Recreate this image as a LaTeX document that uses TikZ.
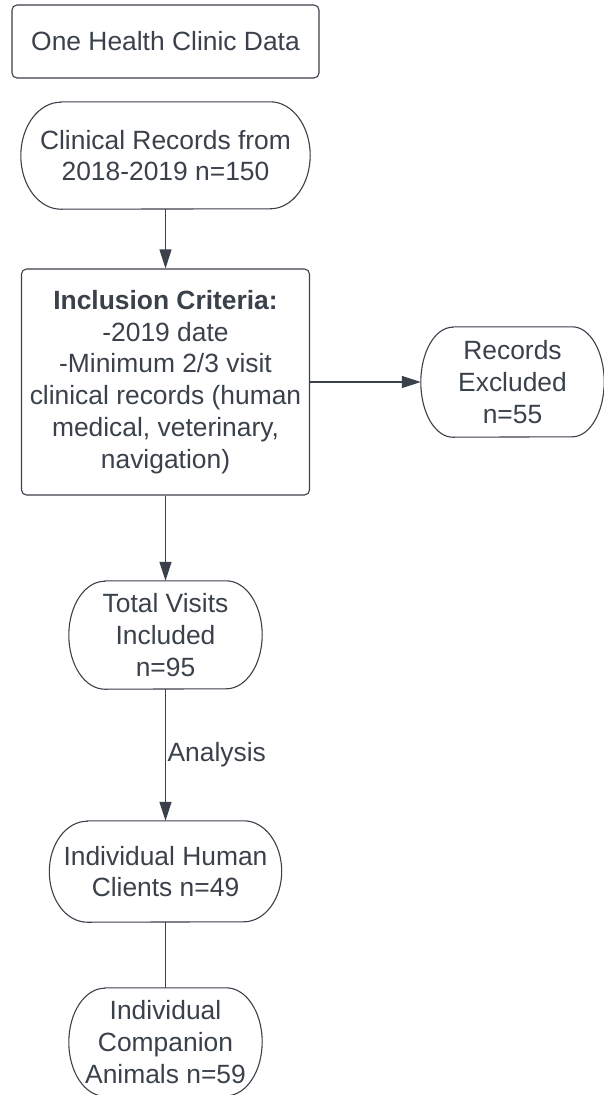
\documentclass[tikz,border=0pt]{standalone}
\usepackage{fontspec}
\setmainfont{Liberation Sans}
\usetikzlibrary{arrows.meta}
\definecolor{ink}{HTML}{3A414A}
\newcommand{\termoutline}[3]{%
  \draw[line] ([xshift=#2]#1.north west) -- ([xshift=-#2]#1.north east)
    arc[start angle=90,end angle=-90,x radius=#2,y radius=#3]
    -- ([xshift=#2]#1.south west)
    arc[start angle=270,end angle=90,x radius=#2,y radius=#3] -- cycle;}
\begin{document}
\begin{tikzpicture}[x=1pt,y=-1pt,
  line/.style={draw=ink,line width=1.1pt},
  arr/.style={line,-{Triangle[length=19pt,width=12pt]}},
  txt/.style={text=ink,align=center,font=\fontsize{26.4}{31.7}\selectfont,inner sep=0pt},
  boxnode/.style={txt,draw=ink,line width=1.1pt,rounded corners=5pt,rectangle},
  termnode/.style={txt,rectangle}
]
\useasboundingbox (0,0) rectangle (603,1095);

\node[boxnode,minimum width=307pt,minimum height=73pt] (title) at (165.5,41.5) {One Health Clinic Data};
\node[termnode,minimum width=289pt,minimum height=107pt] (records) at (165.5,155.5) {Clinical Records from\\2018-2019 n=150};
\node[boxnode,minimum width=288pt,minimum height=226pt] (incl) at (165.5,382) {\textbf{Inclusion Criteria:}\\-2019 date\\-Minimum 2/3 visit\\clinical records (human\\medical, veterinary,\\navigation)};
\node[termnode,minimum width=183pt,minimum height=110pt] (excl) at (512.5,382) {Records\\Excluded\\n=55};
\node[termnode,minimum width=193pt,minimum height=108pt] (total) at (165.5,635) {Total Visits\\Included\\n=95};
\node[termnode,minimum width=232pt,minimum height=101pt] (human) at (165.5,871.5) {Individual Human\\Clients n=49};
\node[termnode,minimum width=193pt,minimum height=108pt] (comp) at (165.5,1042) {Individual\\Companion\\Animals n=59};

\termoutline{records}{40pt}{53.5pt}
\termoutline{excl}{32pt}{55pt}
\termoutline{total}{36pt}{54pt}
\termoutline{human}{38pt}{50.5pt}
\termoutline{comp}{36pt}{54pt}

\draw[arr] (records.south) -- (incl.north);
\draw[arr] (incl.east) -- (excl.west);
\draw[arr] (incl.south) -- (total.north);
\draw[arr] (total.south) -- node[txt,anchor=west,xshift=1.5pt] {Analysis} (human.north);
\draw[line] (human.south) -- (comp.north);
\end{tikzpicture}
\end{document}
